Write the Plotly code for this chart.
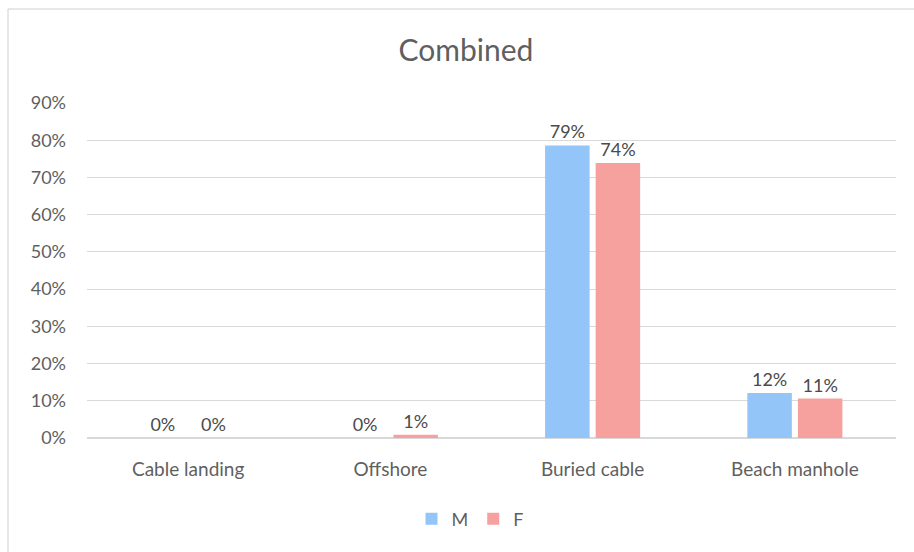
import plotly.graph_objects as go

categories = ["Cable landing", "Offshore", "Buried cable", "Beach manhole"]
m_values = [0.0, 0.0, 0.786, 0.121]
f_values = [0.0, 0.009, 0.739, 0.106]
series_names = ["M", "F"]
tick_vals = [0, 0.1, 0.2, 0.3, 0.4, 0.5, 0.6, 0.7, 0.8, 0.9]
tick_text = ["0%", "10%", "20%", "30%", "40%", "50%", "60%", "70%", "80%", "90%"]

FONT = "Lato, Open Sans, sans-serif"
TXT = "#5f5f5f"
colors = ["#93C5F8", "#F6A19E"]

fig = go.Figure()
for name, vals, col in zip(series_names, [m_values, f_values], colors):
    fig.add_trace(go.Bar(
        x=categories, y=vals, name=name,
        marker=dict(color=col, line=dict(width=0)),
        texttemplate="%{y:.0%}", textposition="outside",
        textfont=dict(family=FONT, size=18, color="#4a4a4a"),
        cliponaxis=False,
    ))

W, H = 914, 552
L, R, T, B = 87, 18, 103, 114
pw = W - L - R
ph = H - T - B

fig.update_layout(
    width=W, height=H,
    margin=dict(l=L, r=R, t=T, b=B),
    paper_bgcolor="white", plot_bgcolor="white",
    barmode="group", bargap=0.5, bargroupgap=0.12,
    title=dict(text="Combined", x=466 / W, xanchor="center", y=1 - 50 / H, yanchor="middle",
               font=dict(family=FONT, size=30, color=TXT)),
    font=dict(family=FONT, color=TXT),
    xaxis=dict(showgrid=False, showline=False, ticks="", ticklabelstandoff=18,
               tickfont=dict(family=FONT, size=19, color=TXT)),
    yaxis=dict(range=[0, 0.9], tickvals=tick_vals, ticktext=tick_text, showgrid=True, gridcolor="#D9D9D9",
               gridwidth=1, zeroline=True, zerolinecolor="#D9D9D9", showline=False, ticks="",
               ticklabelstandoff=20,
               tickfont=dict(family=FONT, size=18, color=TXT)),
    legend=dict(orientation="h", x=(470 - L) / pw, xanchor="center", y=-(519 - 438) / ph, yanchor="middle",
                font=dict(family=FONT, size=18, color=TXT), itemwidth=30, traceorder="normal"),
    showlegend=True,
)

fig.add_shape(type="rect", xref="paper", yref="paper",
              x0=(8 - L) / pw, x1=(930 - L) / pw,
              y0=-(600 - (H - B)) / ph, y1=1 + (T - 9) / ph,
              line=dict(color="#D0D0D0", width=1), fillcolor="rgba(0,0,0,0)", layer="below")

fig.write_html("out.html")
